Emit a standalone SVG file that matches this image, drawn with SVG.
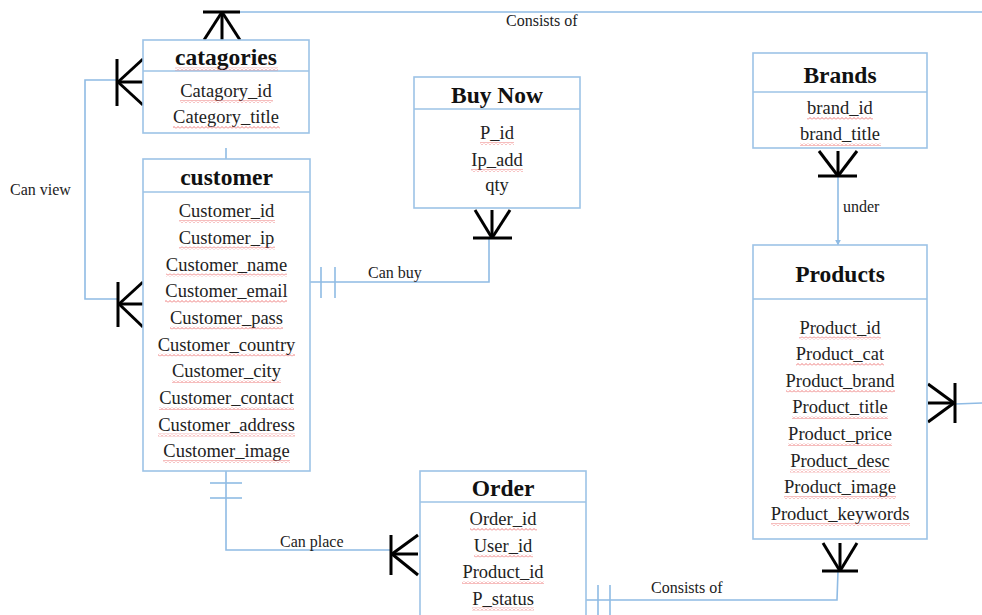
<svg xmlns="http://www.w3.org/2000/svg" width="982" height="615" viewBox="0 0 982 615">
<style>
.box{fill:#fff;stroke:#9dc3e6;stroke-width:1.6}
.div{stroke:#9dc3e6;stroke-width:1.6}
.ttl{font-family:"Liberation Serif","Times New Roman",serif;font-weight:bold;font-size:23.5px;fill:#111;text-anchor:middle}
.att{font-family:"Liberation Serif","Times New Roman",serif;font-size:18.5px;fill:#222;text-anchor:middle}
.lbl{font-family:"Liberation Serif","Times New Roman",serif;font-size:16px;fill:#222}
.ln{fill:none;stroke:#8fbbe4;stroke-width:1.6}
.crow{fill:none;stroke:#000;stroke-width:3;stroke-linecap:butt}
.sq{fill:url(#wavy)}
</style>
<defs>
<pattern id="wavy" width="4" height="3" patternUnits="userSpaceOnUse">
<path d="M0,2.5 L2,0.5 L4,2.5" fill="none" stroke="#e85a5a" stroke-width="0.8"/>
</pattern>
<marker id="arr" viewBox="0 0 10 10" refX="9" refY="5" markerWidth="6" markerHeight="6" orient="auto" markerUnits="userSpaceOnUse">
<path d="M0,0 L10,5 L0,10 z" fill="#8fbbe4"/>
</marker>
</defs>

<g id="connectors">
<!-- top: catagories to right -->
<polyline class="ln" points="240,12 982,12"/>
<g class="crow"><line x1="203" y1="12" x2="240" y2="12"/><line x1="222" y1="12" x2="222" y2="40"/><line x1="222" y1="12" x2="204" y2="40"/><line x1="222" y1="12" x2="240" y2="40"/></g>
<text class="lbl" x="506" y="26">Consists of</text>
<!-- catagories to customer (Can view) -->
<polyline class="ln" points="117,80 85,80 85,299 117,299"/>
<g class="crow"><line x1="117" y1="59" x2="117" y2="106"/><line x1="118" y1="82" x2="143" y2="59"/><line x1="118" y1="82" x2="143" y2="82"/><line x1="118" y1="82" x2="143" y2="105"/></g>
<g class="crow"><line x1="118" y1="282" x2="118" y2="327"/><line x1="119" y1="304" x2="143" y2="282"/><line x1="119" y1="304" x2="143" y2="304"/><line x1="119" y1="304" x2="143" y2="327"/></g>
<text class="lbl" x="10" y="195">Can view</text>
<line class="ln" x1="226" y1="148" x2="226" y2="159"/>
<!-- customer to buy now -->
<polyline class="ln" points="310,282 489,282 489,238"/>
<line class="ln" x1="321" y1="267" x2="321" y2="298"/>
<line class="ln" x1="335" y1="267" x2="335" y2="298"/>
<g class="crow"><line x1="473" y1="238" x2="512" y2="238"/><line x1="492" y1="210" x2="492" y2="238"/><line x1="475" y1="210" x2="492" y2="238"/><line x1="510" y1="210" x2="492" y2="238"/></g>
<text class="lbl" x="368" y="278">Can buy</text>
<!-- customer to order -->
<polyline class="ln" points="226,471 226,550 391,550"/>
<line class="ln" x1="210" y1="483" x2="242" y2="483"/>
<line class="ln" x1="210" y1="498" x2="242" y2="498"/>
<g class="crow"><line x1="391" y1="535" x2="391" y2="575"/><line x1="392" y1="554" x2="418" y2="535"/><line x1="392" y1="554" x2="418" y2="554"/><line x1="392" y1="554" x2="418" y2="575"/></g>
<text class="lbl" x="280" y="547">Can place</text>
<!-- brands to products -->
<line class="ln" x1="838" y1="176" x2="838" y2="245" marker-end="url(#arr)"/>
<g class="crow"><line x1="818" y1="176" x2="857" y2="176"/><line x1="838" y1="151" x2="838" y2="176"/><line x1="819" y1="151" x2="838" y2="176"/><line x1="857" y1="151" x2="838" y2="176"/></g>
<text class="lbl" x="843" y="212">under</text>
<!-- order to products -->
<polyline class="ln" points="586,600 837,600 838,571"/>
<line class="ln" x1="598" y1="585" x2="598" y2="615"/>
<line class="ln" x1="610" y1="585" x2="610" y2="615"/>
<g class="crow"><line x1="822" y1="571" x2="858" y2="571"/><line x1="840" y1="543" x2="840" y2="571"/><line x1="823" y1="543" x2="840" y2="571"/><line x1="857" y1="543" x2="840" y2="571"/></g>
<text class="lbl" x="651" y="593">Consists of</text>
<!-- products to right -->
<line class="ln" x1="955" y1="404" x2="982" y2="403"/>
<g class="crow"><line x1="955" y1="383" x2="955" y2="423"/><line x1="928" y1="384" x2="954" y2="403"/><line x1="928" y1="403" x2="954" y2="403"/><line x1="928" y1="422" x2="954" y2="403"/></g>
</g>

<g id="catagories">
<rect class="box" x="143" y="40" width="166" height="93"/>
<line class="div" x1="143" y1="71" x2="309" y2="71"/>
<text class="ttl" x="226" y="65">catagories</text>
<rect class="sq" x="175" y="67.5" width="103" height="3"/>
<text class="att" x="226" y="97">Catagory_id</text>
<rect class="sq" x="180" y="100" width="93" height="3"/>
<text class="att" x="226" y="123">Category_title</text>
<rect class="sq" x="173" y="126" width="107" height="3"/>
</g>

<g id="customer">
<rect class="box" x="143" y="159" width="167" height="312"/>
<line class="div" x1="143" y1="192" x2="310" y2="192"/>
<text class="ttl" x="226.5" y="185">customer</text>
<text class="att" x="226.5" y="217">Customer_id</text>
<rect class="sq" x="179" y="220" width="96" height="3"/>
<text class="att" x="226.5" y="243.5">Customer_ip</text>
<rect class="sq" x="179" y="246.5" width="96" height="3"/>
<text class="att" x="226.5" y="270.5">Customer_name</text>
<rect class="sq" x="166" y="273.5" width="121" height="3"/>
<text class="att" x="226.5" y="297">Customer_email</text>
<rect class="sq" x="165" y="300" width="122" height="3"/>
<text class="att" x="226.5" y="323.5">Customer_pass</text>
<rect class="sq" x="170" y="326.5" width="113" height="3"/>
<text class="att" x="226.5" y="350.5">Customer_country</text>
<rect class="sq" x="158" y="353.5" width="137" height="3"/>
<text class="att" x="226.5" y="377">Customer_city</text>
<rect class="sq" x="172" y="380" width="109" height="3"/>
<text class="att" x="226.5" y="404">Customer_contact</text>
<rect class="sq" x="159" y="407" width="135" height="3"/>
<text class="att" x="226.5" y="430.5">Customer_address</text>
<rect class="sq" x="158" y="433.5" width="137" height="3"/>
<text class="att" x="226.5" y="457">Customer_image</text>
<rect class="sq" x="163" y="460" width="127" height="3"/>
</g>

<g id="buy-now">
<rect class="box" x="414" y="77" width="166" height="131"/>
<line class="div" x1="414" y1="109" x2="580" y2="109"/>
<text class="ttl" x="497" y="103">Buy Now</text>
<text class="att" x="497" y="139">P_id</text>
<rect class="sq" x="480" y="142" width="34" height="3"/>
<text class="att" x="497" y="166">Ip_add</text>
<rect class="sq" x="471" y="169" width="52" height="3"/>
<text class="att" x="497" y="191">qty</text>
</g>

<g id="brands">
<rect class="box" x="753" y="53" width="174" height="95"/>
<line class="div" x1="753" y1="92" x2="927" y2="92"/>
<text class="ttl" x="840" y="83">Brands</text>
<text class="att" x="840" y="114">brand_id</text>
<rect class="sq" x="807" y="117" width="66" height="3"/>
<text class="att" x="840" y="140">brand_title</text>
<rect class="sq" x="800" y="143" width="81" height="3"/>
</g>

<g id="products">
<rect class="box" x="753" y="245" width="174" height="294"/>
<line class="div" x1="753" y1="299" x2="927" y2="299"/>
<text class="ttl" x="840" y="282">Products</text>
<text class="att" x="840" y="333.5">Product_id</text>
<rect class="sq" x="799" y="336.5" width="82" height="3"/>
<text class="att" x="840" y="360">Product_cat</text>
<rect class="sq" x="796" y="363" width="88" height="3"/>
<text class="att" x="840" y="386.5">Product_brand</text>
<rect class="sq" x="786" y="389.5" width="109" height="3"/>
<text class="att" x="840" y="413">Product_title</text>
<rect class="sq" x="792" y="416" width="96" height="3"/>
<text class="att" x="840" y="440">Product_price</text>
<rect class="sq" x="788" y="443" width="104" height="3"/>
<text class="att" x="840" y="466.5">Product_desc</text>
<rect class="sq" x="790" y="469.5" width="100" height="3"/>
<text class="att" x="840" y="493">Product_image</text>
<rect class="sq" x="784" y="496" width="112" height="3"/>
<text class="att" x="840" y="520">Product_keywords</text>
<rect class="sq" x="771" y="523" width="139" height="3"/>
</g>

<g id="order">
<rect class="box" x="420" y="471" width="166" height="150"/>
<line class="div" x1="420" y1="502" x2="586" y2="502"/>
<text class="ttl" x="503" y="496">Order</text>
<text class="att" x="503" y="525">Order_id</text>
<rect class="sq" x="470" y="528" width="67" height="3"/>
<text class="att" x="503" y="551.5">User_id</text>
<rect class="sq" x="474" y="554.5" width="59" height="3"/>
<text class="att" x="503" y="578">Product_id</text>
<rect class="sq" x="462" y="581" width="82" height="3"/>
<text class="att" x="503" y="604.5">P_status</text>
<rect class="sq" x="472" y="607.5" width="62" height="3"/>
</g>
</svg>
